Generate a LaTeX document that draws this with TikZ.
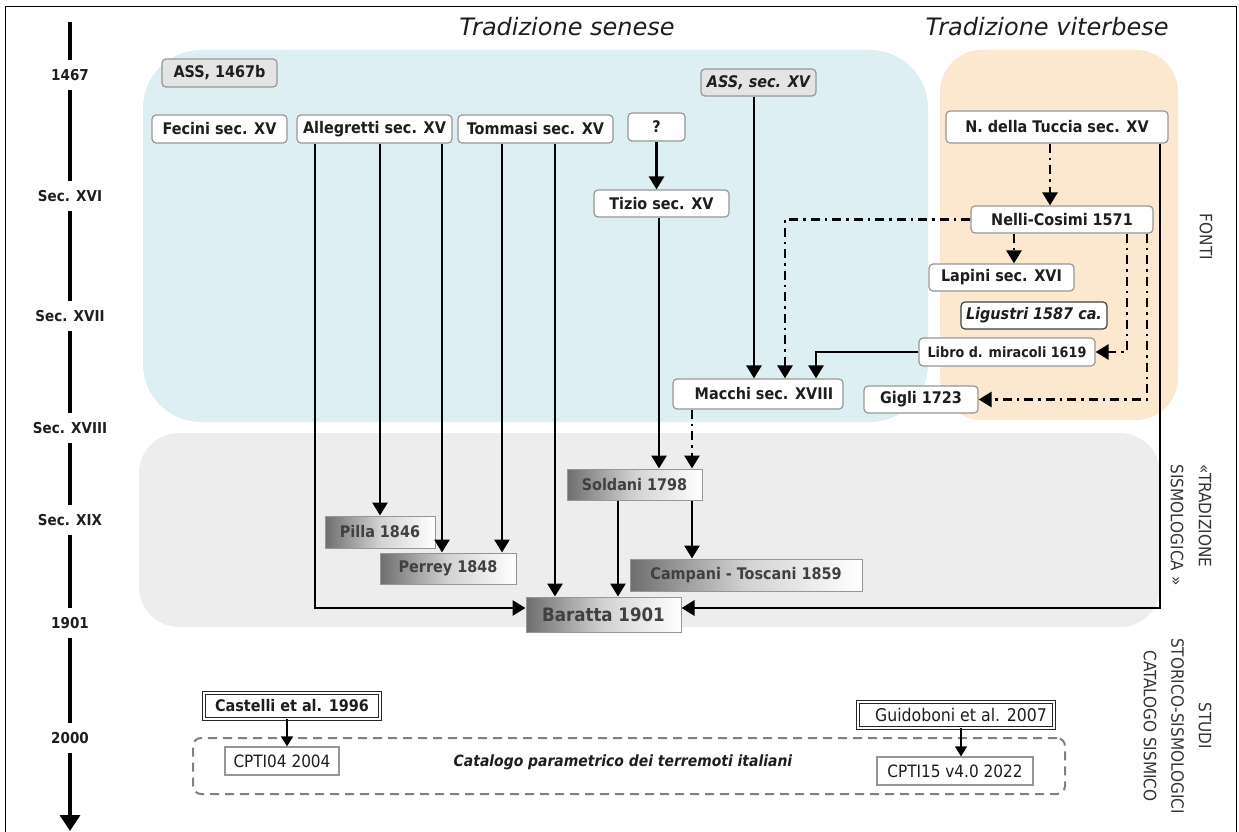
\documentclass[tikz,border=0pt]{standalone}
\usepackage{fontspec}
\setmainfont{DejaVu Sans Condensed}[BoldFont={DejaVu Sans Condensed Bold},ItalicFont={DejaVu Sans Condensed Oblique},BoldItalicFont={DejaVu Sans Condensed Bold Oblique}]
\newfontfamily\titlefont{DejaVu Sans Oblique}
\usetikzlibrary{arrows.meta}
\definecolor{bgblue}{RGB}{222,239,243}
\definecolor{bgorange}{RGB}{252,232,206}
\definecolor{bggray}{RGB}{237,237,237}
\definecolor{boxline}{RGB}{150,150,150}
\definecolor{boxgray}{RGB}{228,228,228}
\definecolor{txt}{RGB}{30,30,30}
\definecolor{graddark}{RGB}{110,110,110}
\definecolor{gradmid}{RGB}{210,210,210}
\definecolor{dashgray}{RGB}{128,128,128}
\newcommand{\fsz}[1]{\fontsize{#1}{#1}\selectfont}
\newcommand{\fszb}[2]{\fontsize{#1}{#2}\selectfont}
\begin{document}
\begin{tikzpicture}[x=1pt,y=-1pt,
  wbox/.style={draw=boxline, line width=1.2pt, fill=white, rounded corners=4pt, inner sep=0pt, font=\bfseries\fsz{16}, text=txt},
  gbox/.style={wbox, fill=boxgray},
  shbox/.style={draw=boxline, line width=1pt, inner sep=0pt, left color=graddark, right color=white, middle color=gradmid, font=\bfseries\fsz{16}, text=txt!85},
  dbox/.style={draw=black!85, double=white, double distance=1.6pt, line width=0.9pt, fill=white, inner sep=0pt, text=txt},
  cbox/.style={draw=boxline, line width=1.2pt, fill=white, inner sep=0pt, font=\fsz{17}, text=txt},
  tl/.style={font=\bfseries\fsz{15}, minimum height=30pt, inner sep=0pt, text=txt},
  tline/.style={line width=3.5pt},
  arr/.style={line width=2.8pt, -{Triangle[width=15pt,length=13pt]}},
  dd/.style={arr, dash pattern=on 9pt off 5pt on 2.5pt off 5pt},
  sarr/.style={line width=1.4pt, -{Triangle[width=12pt,length=10pt]}},
  side/.style={font=\fsz{17}, text=txt!90, rotate=-90, inner sep=0pt},
  title/.style={font=\titlefont\fsz{24}, text=txt, inner sep=0pt}
]
\useasboundingbox (0,0) rectangle (1239,832);
\clip (0,0) rectangle (1239,832);
% backgrounds
\fill[bgblue, rounded corners=58pt] (143,50) rectangle (928,422);
\fill[bgorange, rounded corners=42pt] (940,50) rectangle (1178,420);
\fill[bggray, rounded corners=40pt] (139,433) rectangle (1160,627);
\draw[line width=1pt] (5,6.5) rectangle (1236.5,860);

% titles
\node[title] (tsen) at (567,27) {Tradizione senese};
\node[title] (tvit) at (1047,27) {Tradizione viterbese};

% side labels
\node[side] (fonti) at (1206,237) {FONTI};
\node[side, align=left, font=\fszb{17}{28}] (trad) at (1191,525) {«TRADIZIONE\\SISMOLOGICA »};
\node[side, align=center, font=\fszb{17}{27.5}] (studi) at (1177.5,726) {STUDI\\STORICO-SISMOLOGICI\\CATALOGO SISMICO};

% timeline
\node[tl] (t1467) at (70,75) {1467};
\node[tl] (tXVI) at (70,196) {Sec. XVI};
\node[tl] (tXVII) at (70,316) {Sec. XVII};
\node[tl] (tXVIII) at (70,428) {Sec. XVIII};
\node[tl] (tXIX) at (70,520) {Sec. XIX};
\node[tl] (t1901) at (70,623) {1901};
\node[tl] (t2000) at (70,738) {2000};
\coordinate (ttop) at (70,22);
\coordinate (tbot) at (70,831);
\draw[tline] (ttop) -- (t1467.north);
\draw[tline] (t1467.south) -- (tXVI.north);
\draw[tline] (tXVI.south) -- (tXVII.north);
\draw[tline] (tXVII.south) -- (tXVIII.north);
\draw[tline] (tXVIII.south) -- (tXIX.north);
\draw[tline] (tXIX.south) -- (t1901.north);
\draw[tline] (t1901.south) -- (t2000.north);
\draw[tline, -{Triangle[width=20pt,length=16pt]}] (t2000.south) -- (tbot);

% source boxes
\node[gbox, minimum width=115pt, minimum height=28pt] (ass67) at (219.5,73) {ASS, 1467b};
\node[wbox, minimum width=135pt, minimum height=28pt] (fecini) at (219.5,129) {Fecini sec. XV};
\node[wbox, minimum width=155pt, minimum height=28pt] (alleg) at (374.5,129) {Allegretti sec. XV};
\node[wbox, minimum width=155pt, minimum height=28pt] (tommasi) at (535.5,129) {Tommasi sec. XV};
\node[wbox, minimum width=57pt, minimum height=28pt] (q) at (656.5,127) {?};
\node[gbox, minimum width=115pt, minimum height=27pt, font=\bfseries\itshape\fsz{16}] (asssec) at (758.5,82.5) {ASS, sec. XV};
\node[wbox, minimum width=135pt, minimum height=27pt] (tizio) at (661.5,203.5) {Tizio sec. XV};
\node[wbox, minimum width=222pt, minimum height=32pt] (tuccia) at (1057,127) {N. della Tuccia sec. XV};
\node[wbox, minimum width=182pt, minimum height=27pt] (nelli) at (1062,219.5) {Nelli-Cosimi 1571};
\node[wbox, minimum width=145pt, minimum height=27pt] (lapini) at (1001.5,277.5) {Lapini sec. XVI};
\node[wbox, draw=black!75, minimum width=146pt, minimum height=27pt, font=\bfseries\itshape\fsz{16}] (ligustri) at (1034,315.5) {Ligustri 1587 ca.};
\node[wbox, minimum width=176pt, minimum height=28pt, font=\bfseries\fsz{14.2}] (libro) at (1007,352) {Libro d. miracoli 1619};
\node[wbox, minimum width=114pt, minimum height=27pt] (gigli) at (921,399.5) {Gigli 1723};
\node[wbox, minimum width=170pt, minimum height=30pt] (macchi) at (758,394) {\hspace*{12pt}Macchi sec. XVIII};

% seismological tradition
\node[shbox, minimum width=135pt, minimum height=31pt] (soldani) at (634.5,484.5) {Soldani 1798};
\node[shbox, minimum width=110pt, minimum height=32pt] (pilla) at (380,532) {Pilla 1846};
\node[shbox, minimum width=136pt, minimum height=31pt] (perrey) at (448,568.5) {Perrey 1848};
\node[shbox, minimum width=232pt, minimum height=32pt] (campani) at (746,575) {Campani - Toscani 1859};
\node[shbox, minimum width=155pt, minimum height=35pt, font=\bfseries\fsz{18.5}] (baratta) at (603.5,614.5) {Baratta 1901};

% catalogue
\node[draw=dashgray, line width=2pt, dash pattern=on 9pt off 6pt, rounded corners=8pt, minimum width=872pt, minimum height=56pt, inner sep=0pt] (cat) at (629,766) {};
\node[font=\bfseries\itshape\fsz{15.5}, text=txt, inner sep=0pt] (cattxt) at (623,762) {Catalogo parametrico dei terremoti italiani};
\node[dbox, minimum width=176pt, minimum height=26pt, font=\bfseries\fsz{16}] (castelli) at (292,706) {Castelli et al. 1996};
\node[dbox, minimum width=196pt, minimum height=26pt, font=\fsz{17.5}] (guido) at (956,715) {\hspace*{10pt}Guidoboni et al. 2007};
\node[cbox, minimum width=114pt, minimum height=28pt] (cpti04) at (282,761) {CPTI04 2004};
\node[cbox, minimum width=156pt, minimum height=28pt] (cpti15) at (955,771) {CPTI15 v4.0 2022};

% connectors
\draw[arr] (alleg.south -| 380,0) -- (pilla.north);
\draw[arr] (alleg.south -| 442,0) -- (perrey.north -| 442,0);
\draw[arr] (tommasi.south -| 502,0) -- (perrey.north -| 502,0);
\draw[arr] (tommasi.south -| 555,0) -- (baratta.north -| 555,0);
\draw[arr] (alleg.south -| 315,0) |- (baratta.west |- 0,608);
\draw[arr] (tuccia.south -| 1160,0) |- (baratta.east |- 0,608);
\draw[arr] (q.south) -- (q.south |- tizio.north);
\draw[arr] (tizio.south -| 659,0) -- (soldani.north -| 659,0);
\draw[arr] (asssec.south -| 754,0) -- (macchi.north -| 754,0);
\draw[dd] (nelli.west) -| (macchi.north -| 785,0);
\draw[arr] (libro.west) -| (macchi.north -| 816,0);
\draw[dd] (tuccia.south -| 1050,0) -- (nelli.north -| 1050,0);
\draw[dd] (nelli.south -| 1014,0) -- (lapini.north -| 1014,0);
\draw[dd] (nelli.south -| 1127,0) |- (libro.east);
\draw[dd] (nelli.south -| 1147,0) |- (gigli.east);
\draw[dd] (macchi.south -| 692,0) -- (soldani.north -| 692,0);
\draw[arr] (soldani.south -| 618,0) -- (baratta.north -| 618,0);
\draw[arr] (soldani.south -| 692,0) -- (campani.north -| 692,0);
\draw[sarr] (castelli.south -| 287,0) -- (cpti04.north -| 287,0);
\draw[sarr] (guido.south -| 961,0) -- (cpti15.north -| 961,0);
\end{tikzpicture}
\end{document}
